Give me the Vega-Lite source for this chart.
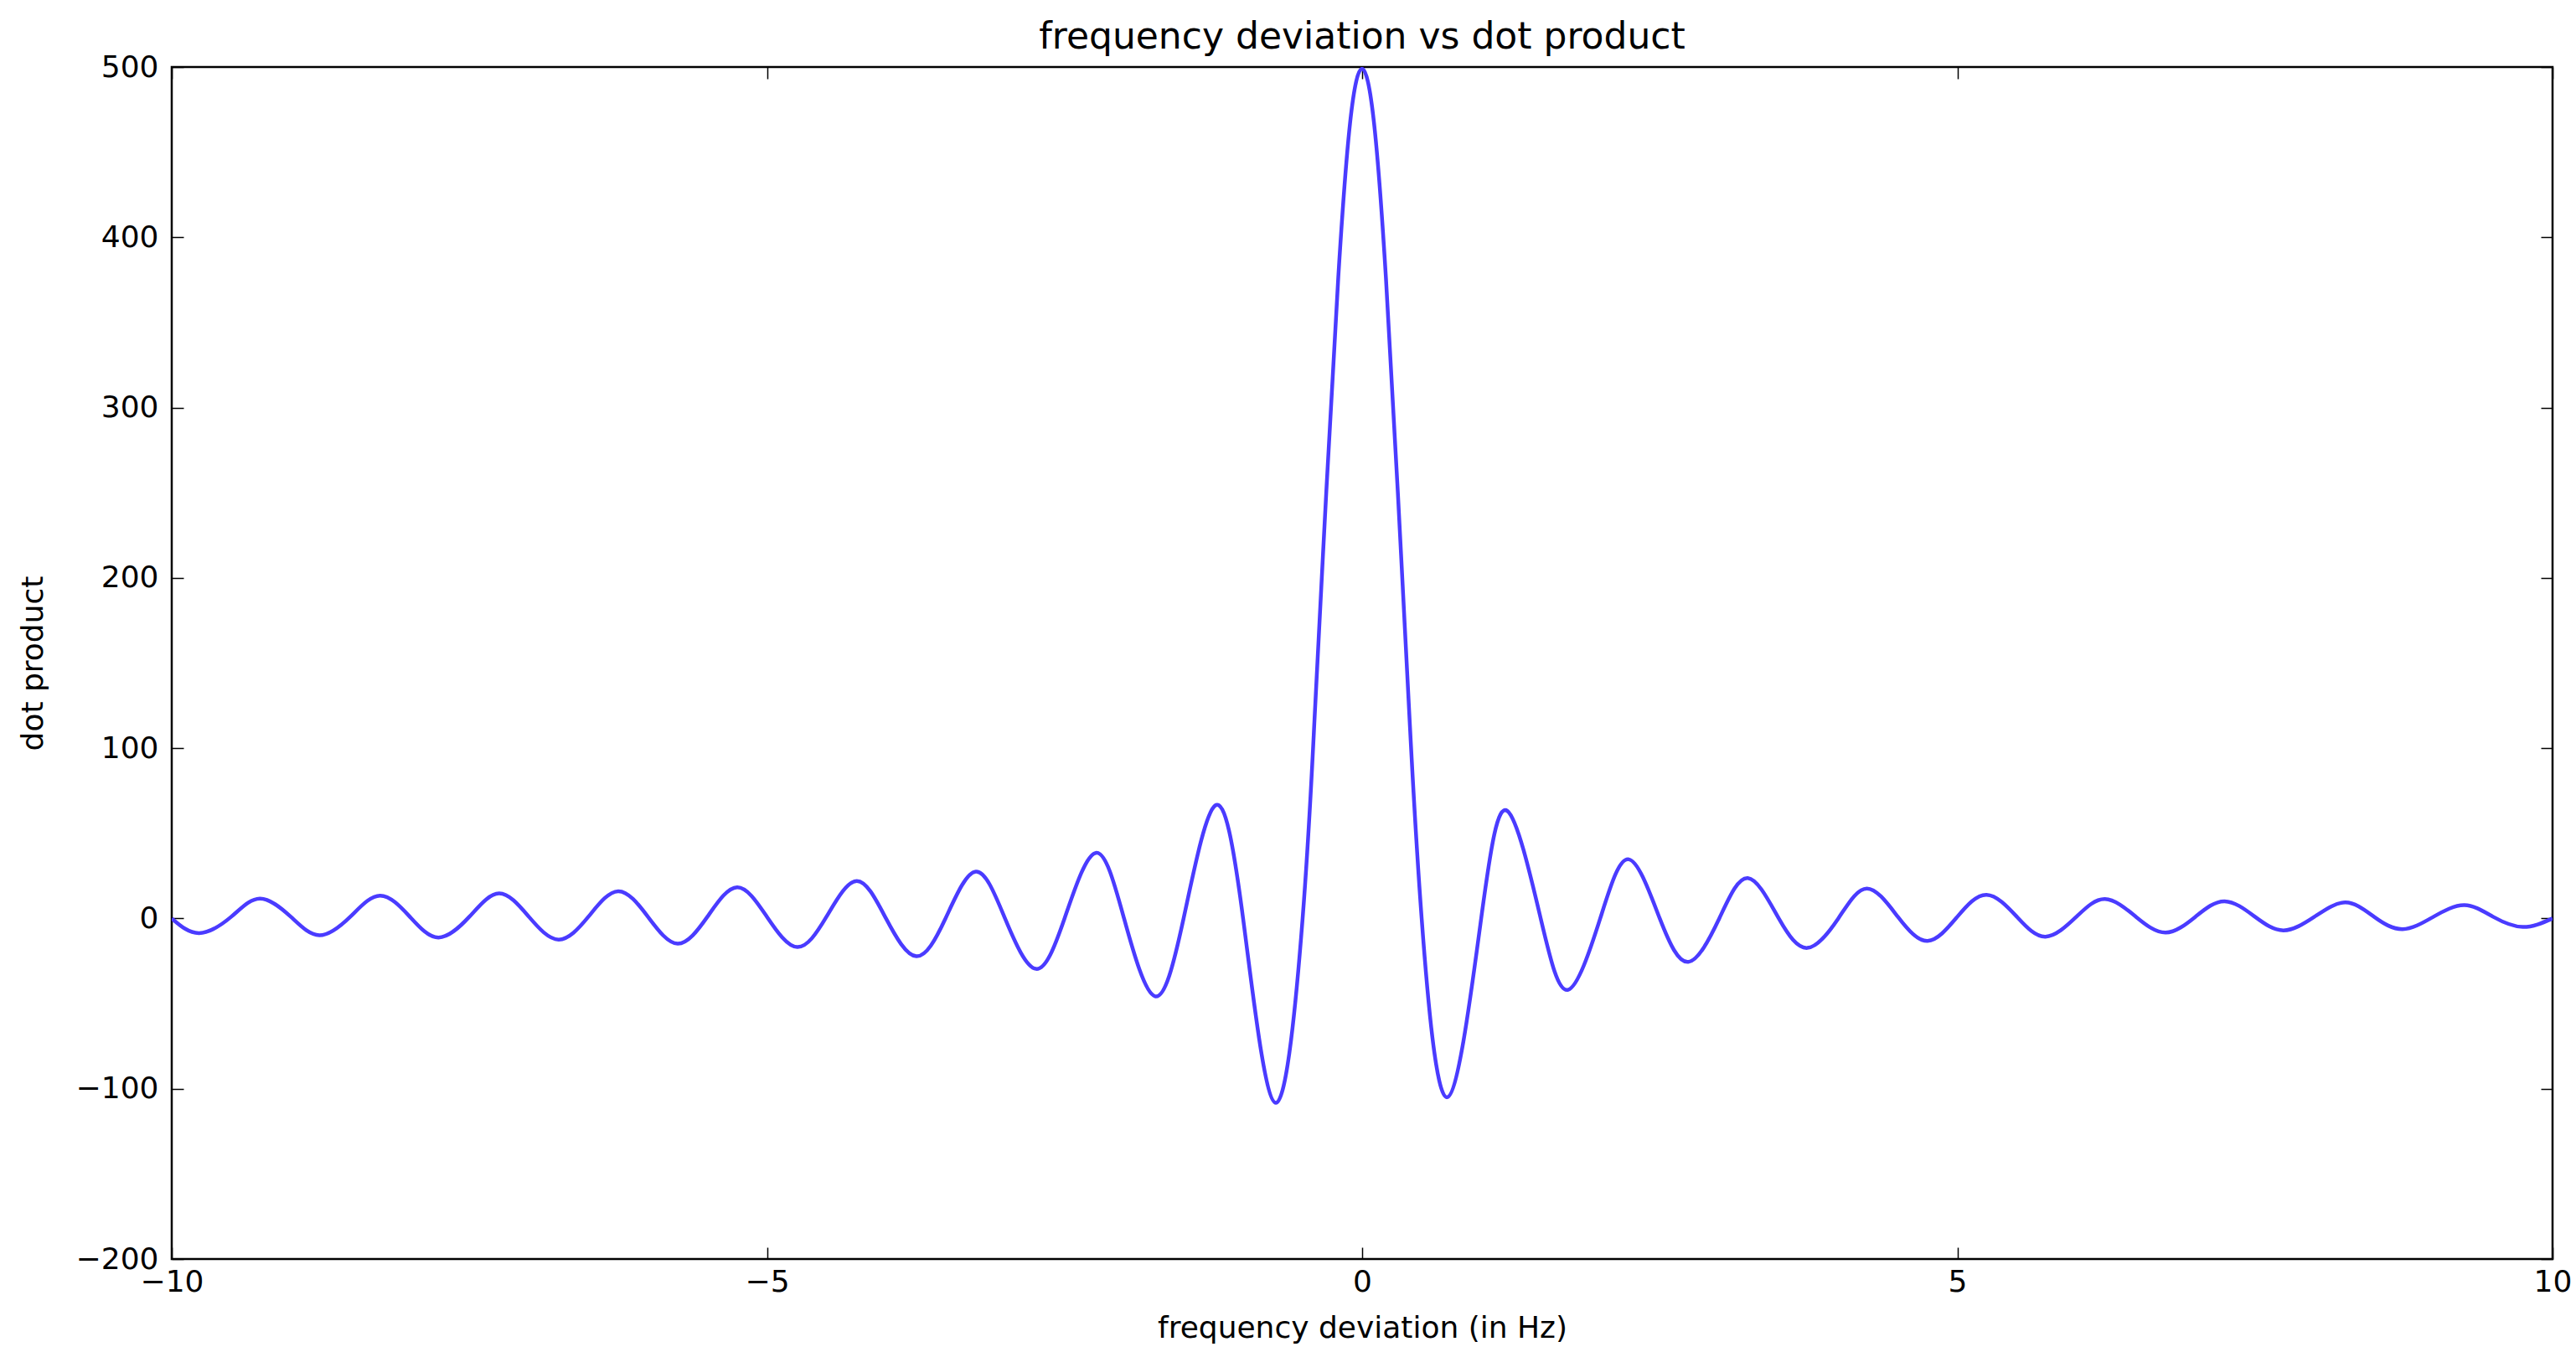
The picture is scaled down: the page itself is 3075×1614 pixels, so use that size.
{
  "$schema": "https://vega.github.io/schema/vega-lite/v6.json",
  "width": 2842,
  "height": 1423,
  "autosize": "none",
  "padding": {"left": 205, "top": 80, "right": 28, "bottom": 111},
  "background": "white",
  "title": {
    "text": "frequency deviation vs dot product",
    "font": "DejaVu Sans",
    "fontSize": 44,
    "fontWeight": "normal",
    "color": "black",
    "frame": "group",
    "anchor": "middle",
    "baseline": "alphabetic",
    "offset": 18,
    "dy": 58
  },
  "config": {
    "view": {"stroke": "black", "strokeWidth": 2.5},
    "axis": {
      "labelFont": "DejaVu Sans",
      "labelFontSize": 36,
      "labelColor": "black",
      "titleFont": "DejaVu Sans",
      "titleFontSize": 36,
      "titleFontWeight": "normal",
      "titleColor": "black",
      "grid": false,
      "domain": false,
      "tickColor": "black",
      "tickWidth": 1.5,
      "tickSize": -14,
      "labelFlush": false,
      "labelOverlap": false
    }
  },
  "data": {
    "values": [
      {"f": -10.0, "v": 0},
      {"f": -9.77, "v": -8.6},
      {"f": -9.5, "v": 1},
      {"f": -9.26, "v": 11.7},
      {"f": -9.0, "v": 1},
      {"f": -8.76, "v": -9.9},
      {"f": -8.5, "v": 1},
      {"f": -8.25, "v": 13.4},
      {"f": -8.0, "v": 1},
      {"f": -7.76, "v": -11.2},
      {"f": -7.5, "v": 1},
      {"f": -7.25, "v": 14.7},
      {"f": -7.0, "v": 1},
      {"f": -6.75, "v": -12.4},
      {"f": -6.5, "v": 1},
      {"f": -6.25, "v": 16.0},
      {"f": -6.0, "v": 1},
      {"f": -5.75, "v": -14.8},
      {"f": -5.5, "v": 1},
      {"f": -5.25, "v": 18.3},
      {"f": -5.0, "v": 1},
      {"f": -4.745, "v": -16.8},
      {"f": -4.5, "v": 1},
      {"f": -4.245, "v": 22.0},
      {"f": -4.0, "v": 0},
      {"f": -3.745, "v": -22.2},
      {"f": -3.5, "v": 0},
      {"f": -3.245, "v": 27.5},
      {"f": -3.0, "v": 0},
      {"f": -2.74, "v": -29.6},
      {"f": -2.5, "v": 0},
      {"f": -2.237, "v": 38.5},
      {"f": -2.0, "v": 0},
      {"f": -1.74, "v": -45.7},
      {"f": -1.5, "v": 0},
      {"f": -1.235, "v": 66.3},
      {"f": -1.0, "v": 0},
      {"f": -0.725, "v": -108.3},
      {"f": -0.5, "v": 0},
      {"f": -0.4, "v": 117},
      {"f": -0.3, "v": 252},
      {"f": -0.2, "v": 377},
      {"f": -0.1, "v": 468},
      {"f": 0.0, "v": 499},
      {"f": 0.1, "v": 467},
      {"f": 0.2, "v": 376},
      {"f": 0.3, "v": 250},
      {"f": 0.4, "v": 115},
      {"f": 0.5, "v": 0},
      {"f": 0.713, "v": -105.0},
      {"f": 1.0, "v": 0},
      {"f": 1.22, "v": 63.1},
      {"f": 1.5, "v": 0},
      {"f": 1.73, "v": -41.9},
      {"f": 2.0, "v": 0},
      {"f": 2.24, "v": 34.7},
      {"f": 2.5, "v": 0},
      {"f": 2.74, "v": -25.5},
      {"f": 3.0, "v": 0},
      {"f": 3.24, "v": 23.7},
      {"f": 3.5, "v": 0},
      {"f": 3.74, "v": -17.3},
      {"f": 4.0, "v": 0},
      {"f": 4.24, "v": 17.6},
      {"f": 4.5, "v": 1},
      {"f": 4.75, "v": -13.2},
      {"f": 5.0, "v": 1},
      {"f": 5.245, "v": 13.9},
      {"f": 5.5, "v": 1},
      {"f": 5.74, "v": -10.7},
      {"f": 6.0, "v": 1},
      {"f": 6.24, "v": 11.4},
      {"f": 6.5, "v": 1},
      {"f": 6.75, "v": -8.3},
      {"f": 7.0, "v": 1},
      {"f": 7.245, "v": 10.1},
      {"f": 7.5, "v": 1},
      {"f": 7.74, "v": -7.0},
      {"f": 8.0, "v": 1},
      {"f": 8.26, "v": 9.4},
      {"f": 8.5, "v": 1},
      {"f": 8.74, "v": -6.3},
      {"f": 9.0, "v": 1},
      {"f": 9.26, "v": 7.8},
      {"f": 9.5, "v": 1},
      {"f": 9.75, "v": -5.0},
      {"f": 10.0, "v": 0}
    ]
  },
  "layer": [
    {
      "mark": {"type": "line", "color": "#4a3bff", "strokeWidth": 4.5, "interpolate": "natural", "clip": true},
      "encoding": {
        "x": {
          "field": "f",
          "type": "quantitative",
          "scale": {"domain": [-10, 10], "nice": false, "zero": false},
          "axis": {"orient": "bottom", "values": [-10, -5, 0, 5, 10], "title": "frequency deviation (in Hz)", "labelPadding": 24, "titlePadding": 20}
        },
        "y": {
          "field": "v",
          "type": "quantitative",
          "scale": {"domain": [-200, 500], "nice": false, "zero": false},
          "axis": {"orient": "left", "values": [-200, -100, 0, 100, 200, 300, 400, 500], "title": "dot product", "labelPadding": 30, "titlePadding": 32}
        }
      }
    },
    {
      "mark": {"type": "line", "opacity": 0},
      "encoding": {
        "x": {
          "field": "f",
          "type": "quantitative",
          "axis": {"orient": "top", "values": [-10, -5, 0, 5, 10], "labels": false, "title": null}
        },
        "y": {
          "field": "v",
          "type": "quantitative",
          "axis": {"orient": "right", "values": [-200, -100, 0, 100, 200, 300, 400, 500], "labels": false, "title": null}
        }
      }
    }
  ],
  "resolve": {"axis": {"x": "independent", "y": "independent"}}
}
